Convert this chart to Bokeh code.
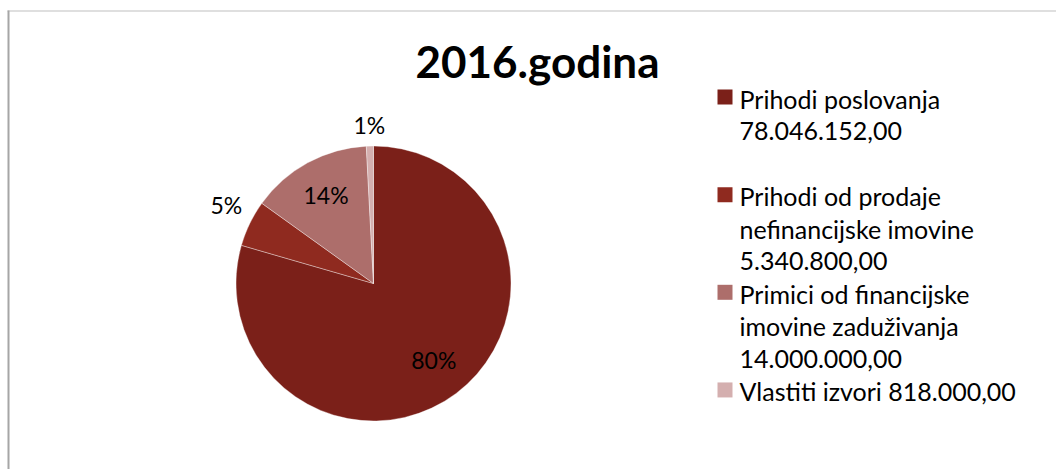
import math
from bokeh.plotting import figure
from bokeh.models import Range1d, ColumnDataSource
from bokeh.core.properties import value
from bokeh.embed import file_html
from bokeh.resources import INLINE

# ---- data ----
title = "2016.godina"
categories = ["Prihodi poslovanja",
              "Prihodi od prodaje nefinancijske imovine",
              "Primici od financijske imovine zaduživanja",
              "Vlastiti izvori"]
values = [78046152.00, 5340800.00, 14000000.00, 818000.00]
pct_labels = ["80%", "5%", "14%", "1%"]
colors = ["#7B2019", "#8F2A1F", "#AD6E6B", "#D4AFAF"]


def hr_fmt(v):
    s = f"{v:,.2f}"
    return s.replace(",", "X").replace(".", ",").replace("X", ".")


# legend text wrapped as in the reference
legend_lines = [
    ["Prihodi poslovanja", hr_fmt(values[0]), ""],
    ["Prihodi od prodaje", "nefinancijske imovine", hr_fmt(values[1])],
    ["Primici od financijske", "imovine zaduživanja", hr_fmt(values[2])],
    ["Vlastiti izvori " + hr_fmt(values[3])],
]

# ---- layout (page pixel coordinates) ----
W, H = 1056, 469
FONT = "Lato"


def px(x):
    return x


def py(y):
    return H - y


p = figure(width=W, height=H, x_range=Range1d(0, W), y_range=Range1d(0, H),
           output_backend="svg", toolbar_location=None, min_border=0,
           x_axis_location=None, y_axis_location=None)
p.xgrid.visible = False
p.ygrid.visible = False
p.outline_line_color = None
p.background_fill_color = "white"
p.border_fill_color = "white"

# chart border (top and left visible)
p.segment(x0=[px(7)], y0=[py(10.5)], x1=[px(1056)], y1=[py(10.5)],
          line_color="#BFBFBF", line_width=1)
p.segment(x0=[px(8)], y0=[py(10)], x1=[px(8)], y1=[py(469)],
          line_color="#A6A6A6", line_width=2)

# ---- pie ----
cx, cy, R = px(373), py(283), 137.5
total = sum(values)
cum = [0.0]
for v in values:
    cum.append(cum[-1] + v / total)
starts = [math.pi / 2 - 2 * math.pi * cum[i] for i in range(len(values))]
ends = [math.pi / 2 - 2 * math.pi * cum[i + 1] for i in range(len(values))]
src = ColumnDataSource(dict(start=starts, end=ends, color=colors))
p.wedge(x=cx, y=cy, radius=R, radius_units="screen", start_angle="start",
        end_angle="end", direction="clock", fill_color="color",
        line_color="white", line_width=0.6, line_alpha=0.6, source=src)

label_factor = [0.73, 1.19, 0.72, 1.14]
label_dy = [4, 7, 2, 2]
lx, ly = [], []
for i in range(len(values)):
    a = math.pi / 2 - 2 * math.pi * (cum[i] + cum[i + 1]) / 2
    lx.append(cx + R * label_factor[i] * math.cos(a))
    ly.append(cy + R * label_factor[i] * math.sin(a) + label_dy[i])
p.text(x=lx, y=ly, text=pct_labels, text_align="center",
       text_baseline="middle", text_font=value(FONT),
       text_font_size="23px", text_color="black")

# ---- title ----
p.text(x=[px(537)], y=[py(60)], text=[title], text_align="center",
       text_baseline="alphabetic", text_font=value(FONT),
       text_font_style="bold", text_font_size="44px", text_color="black")

# ---- legend ----
pitch = 32.55
base0 = 98
line_idx = 0
tx, ty, tt = [], [], []
sq_x, sq_y = [], []
for i, lines in enumerate(legend_lines):
    sq_x.append(px(724.5))
    sq_y.append(py(base0 + pitch * line_idx - 1.5))
    for ln in lines:
        if ln:
            tx.append(px(739))
            ty.append(py(base0 + pitch * line_idx))
            tt.append(ln)
        line_idx += 1
p.rect(x=sq_x, y=sq_y, width=15, height=15, width_units="screen",
       height_units="screen", fill_color=colors, line_color=None)
p.text(x=tx, y=ty, text=tt, text_align="left", text_baseline="alphabetic",
       text_font=value(FONT), text_font_size="25px", text_color="black")

open("out.html", "w").write(file_html(p, INLINE))
